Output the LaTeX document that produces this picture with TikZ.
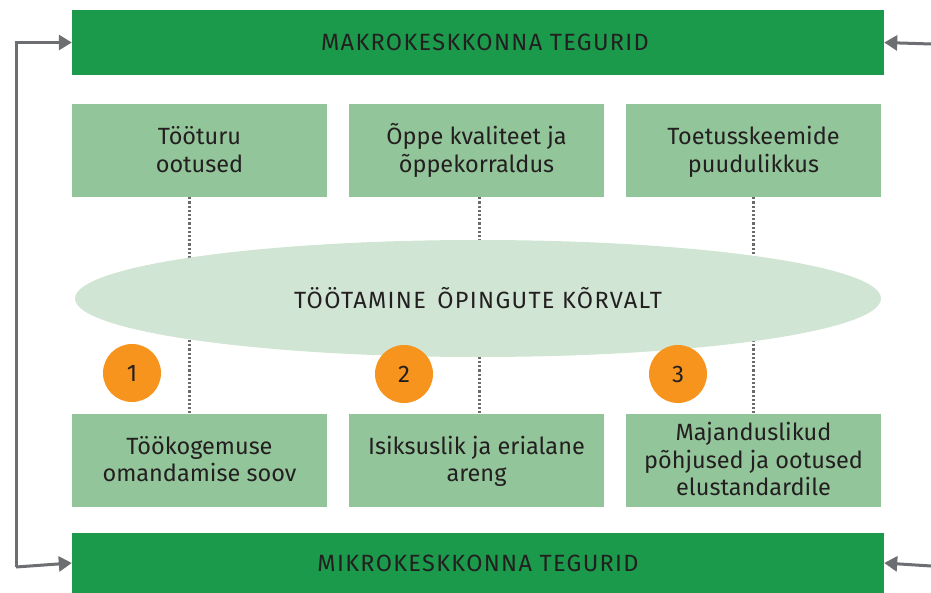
\documentclass[tikz,border=0pt]{standalone}
\usepackage{fontspec}
\setmainfont{Fira Sans}
\newfontfamily\capsfont[LetterSpace=5.6]{Fira Sans}
\usetikzlibrary{arrows.meta,shapes.geometric}
\definecolor{darkgreen}{HTML}{1B9A4B}
\definecolor{boxgreen}{HTML}{93C59A}
\definecolor{ellgreen}{HTML}{D0E5D3}
\definecolor{orangec}{HTML}{F7941D}
\definecolor{arrgray}{HTML}{6D6E71}
\definecolor{dotgray}{HTML}{6A6B6E}
\definecolor{txt}{HTML}{231F20}
\newcommand{\toprow}{\vphantom{Õ}}
\newcommand{\botrow}{\vphantom{g}}
\tikzset{
  bar/.style={fill=darkgreen, draw=none, minimum width=812pt, inner sep=0pt, text=txt, font=\capsfont\fontsize{23.5}{27}\selectfont},
  factor/.style={fill=boxgreen, draw=none, minimum width=255pt, minimum height=93pt, inner sep=0pt, align=center, text=txt, font=\fontsize{23.5}{27.5}\selectfont},
  numcirc/.style={circle, fill=orangec, draw=none, minimum size=58pt, inner sep=0pt, text=txt, font=\fontsize{24}{28}\selectfont},
  dotline/.style={draw=dotgray, line width=3pt, dash pattern=on 2.2pt off 2pt},
  arr/.style={draw=arrgray, line width=3pt, -{Triangle[length=13pt,width=15pt]}},
}
\begin{document}
\begin{tikzpicture}[x=1pt,y=-1pt]
\useasboundingbox (0,0) rectangle (931,593);
% bars
\node[bar, minimum height=65pt] (top) at (478,42.5) {\hspace{14pt}MAKROKESKKONNA TEGURID};
\node[bar, minimum height=60pt] (bot) at (478,563) {MIKROKESKKONNA TEGURID};
% factor boxes row 1
\node[factor] (a1) at (199.5,150.5) {\toprow Tööturu\\ootused\botrow};
\node[factor] (a2) at (476.5,150.5) {\toprow Õppe kvaliteet ja\\õppekorraldus\botrow};
\node[factor] (a3) at (753.5,150.5) {\toprow Toetusskeemide\\puudulikkus\botrow};
% factor boxes row 2
\node[factor] (b1) at (199.5,460) {\toprow Töökogemuse\\omandamise soov\botrow};
\node[factor] (b2) at (476.5,460) {\toprow Isiksuslik ja erialane\\areng\botrow};
\node[factor] (b3) at (753.5,460) {\toprow Majanduslikud\\põhjused ja ootused\\elustandardile\botrow};
% dotted connectors (behind ellipse)
\draw[dotline] (a1.south -| 189,0) -- (b1.north -| 189,0);
\draw[dotline] (a2.south -| 479,0) -- (b2.north -| 479,0);
\draw[dotline] (a3.south -| 753,0) -- (b3.north -| 753,0);
% central ellipse
\node[ellipse, fill=ellgreen, draw=none, minimum width=806pt, minimum height=117pt, inner sep=0pt, text=txt, font=\capsfont\fontsize{23.5}{27}\selectfont] (mid) at (478,298.5) {TÖÖTAMINE\ \,ÕPINGUTE KÕRVALT};
% numbered circles
\node[numcirc] (n1) at (132,373) {1};
\node[numcirc] (n2) at (404,374) {2};
\node[numcirc] (n3) at (678,374) {3};
% arrows
\coordinate (lc) at (16,567);
\coordinate (rt) at (931,44);
\coordinate (rb) at (931,566);
\draw[arr] (lc) |- (top.west);
\draw[arr] (lc) -- (bot.west);
\draw[arr] (rt) -- (top.east);
\draw[arr] (rb) -- (bot.east);
\end{tikzpicture}
\end{document}
